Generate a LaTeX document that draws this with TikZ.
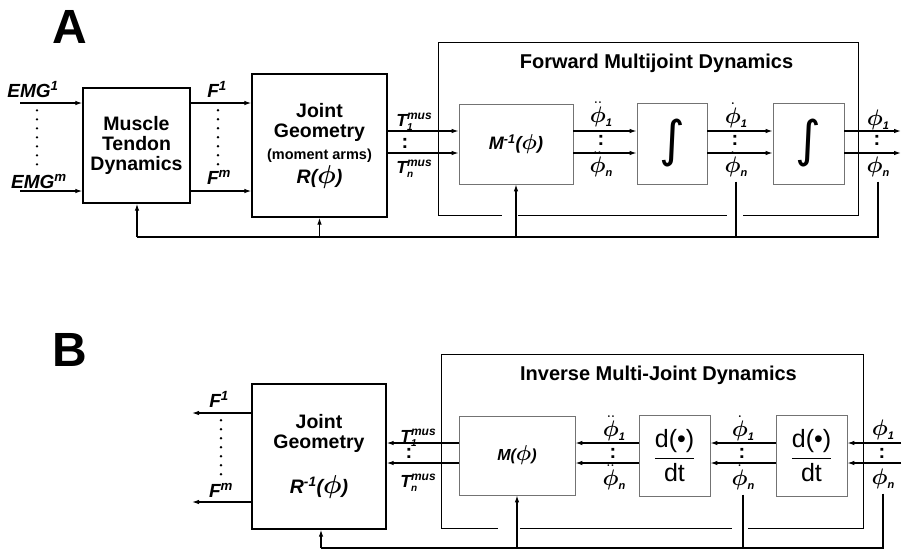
\documentclass[tikz,border=0pt]{standalone}
\usepackage{amsmath}
\usepackage{fontspec}
\setmainfont{Liberation Sans}
\newfontfamily\symfont{DejaVu Sans}
\usetikzlibrary{arrows.meta, positioning}

\newcommand{\phb}{\scalebox{1.25}{$\boldsymbol{\phi}$}}
\newcommand{\phl}[2]{\scalebox{1.3}{$#1{\boldsymbol{\phi}}$}\raisebox{-4pt}{\fontsize{11}{11}\selectfont\bfseries\itshape #2}}
\newcommand{\tmus}[1]{T\makebox[0pt][l]{\raisebox{7pt}{\fontsize{12}{12}\selectfont mus}}\makebox[0pt][l]{\raisebox{-4pt}{\fontsize{10}{10}\selectfont #1}}\phantom{\fontsize{12}{12}\selectfont mus}}
\newcommand{\intg}{\resizebox*{!}{48pt}{\symfont ∫}}

\begin{document}
\begin{tikzpicture}[x=1pt,y=-1pt]
    \tikzstyle{blk} = [rectangle, draw=black, line width=1.3pt, align=center,
                       inner sep=0pt, font=\fontsize{19.5}{20}\selectfont\bfseries]
    \tikzstyle{sub} = [rectangle, draw=black!55, line width=0.7pt, align=center, inner sep=0pt]
    \tikzstyle{frm} = [line width=1.3pt]
    \tikzstyle{ttl} = [font=\fontsize{20}{20}\selectfont\bfseries, inner sep=0pt]
    \tikzstyle{lbl} = [font=\fontsize{19}{20}\selectfont\bfseries\itshape, inner sep=0pt, anchor=base]
    \tikzstyle{tlb} = [font=\fontsize{17.5}{18}\selectfont\bfseries\itshape, inner sep=0pt, anchor=base]
    \tikzstyle{cln} = [font=\fontsize{20}{20}\selectfont\bfseries, inner sep=0pt]
    \tikzstyle{big} = [font=\fontsize{48}{48}\selectfont\bfseries, inner sep=0pt]
    \tikzstyle{dotcol} = [line width=2.6pt, line cap=round, dash pattern=on 0pt off 9pt]
    \tikzstyle{arr} = [-{Latex[length=7pt,width=4.5pt]}, line width=1.2pt]
    \tikzstyle{ln} = [line width=1.2pt]

    \useasboundingbox (0,0) rectangle (902,550);

    % panel A
    \node (labA) [big] at (70,27) {A};
    \node (mus) [blk, minimum width=107pt, minimum height=115pt] at (136.5,145.5)
        {Muscle\\Tendon\\Dynamics};
    \node (jgA) [blk, minimum width=135pt, minimum height=143pt] at (319.5,145.5)
        {Joint\\Geometry\\[2pt]{\fontsize{14.5}{15}\selectfont (moment arms)}\\[2pt]{\itshape R(\phb)}};
    \node (fwd) [minimum width=419pt, minimum height=172pt] at (648.5,129) {};
    \node (fwdT) [ttl, below=11pt of fwd.north, xshift=8pt] {Forward Multijoint Dynamics};
    \node (minv) [sub, minimum width=114pt, minimum height=80pt] at (516,144)
        {\fontsize{18}{20}\selectfont\bfseries\itshape M\textsuperscript{-1}(\phb)};
    \node (int1) [sub, minimum width=70pt, minimum height=81pt] at (672,143.5) {\intg};
    \node (int2) [sub, minimum width=71pt, minimum height=81pt] at (808.5,143.5) {\intg};

    \draw[frm] ([xshift=63pt]fwd.south west) -- (fwd.south west) |- (fwd.north east)
        -- (fwd.south east) -- ([xshift=-115pt]fwd.south east);
    \draw[frm] ([xshift=79pt]fwd.south west) -- ([xshift=-131pt]fwd.south east);

    \coordinate (e1) at (20,103);
    \coordinate (e2) at (20,191);
    \coordinate (a1) at (0,131);
    \coordinate (a2) at (0,153);
    \coordinate (oA) at (901,0);

    \foreach \r in {e1,e2} {
        \draw[arr] (\r) -- (mus.west |- \r);
        \draw[arr] (mus.east |- \r) -- (jgA.west |- \r);
    }
    \foreach \r in {a1,a2} {
        \draw[arr] (jgA.east |- \r) -- (minv.west |- \r);
        \draw[arr] (minv.east |- \r) -- (int1.west |- \r);
        \draw[arr] (int1.east |- \r) -- (int2.west |- \r);
        \draw[arr] (int2.east |- \r) -- (oA |- \r);
    }

    \node (emg1) [lbl] at (33,97) {EMG\textsuperscript{1}};
    \node (emgm) [lbl] at (39,188) {EMG\textsuperscript{m}};
    \node (f1A) [lbl] at (217,97) {F\textsuperscript{1}};
    \node (fmA) [lbl] at (219,184) {F\textsuperscript{m}};
    \node (t1A) [tlb] at (414,126) {\tmus{1}};
    \node (tnA) [tlb] at (414,173) {\tmus{n}};
    \node (pdd1A) [lbl] at (601,122) {\phl{\ddot}{1}};
    \node (pddnA) [lbl] at (601,172) {\phl{\ddot}{n}};
    \node (pd1A) [lbl] at (736,123) {\phl{\dot}{1}};
    \node (pdnA) [lbl] at (736,172) {\phl{\dot}{n}};
    \node (p1A) [lbl] at (878,125) {\phl{}{1}};
    \node (pnA) [lbl] at (878,172) {\phl{}{n}};

    \node (cTA) [cln] at (405,143) {:};
    \node (cddA) [cln] at (601,140) {:};
    \node (cdA) [cln] at (735,140) {:};
    \node (cA) [cln] at (877,140) {:};
    \draw[dotcol] (emg1.south) ++(4,13) -- ++(0,56);
    \draw[dotcol] (f1A.south) ++(1,13) -- ++(0,57);

    % feedback A
    \coordinate (fbA) at (137,237);
    \draw[ln] ([yshift=-5pt]pnA.south) |- (fbA);
    \draw[arr] (fbA) -- (fbA |- mus.south);
    \draw[arr] (jgA.south |- fbA) -- (jgA.south);
    \draw[arr] (minv.south |- fbA) -- (minv.south);
    \draw[ln] ([yshift=-5pt]pdnA.south) -- (pdnA.south |- fbA);

    % panel B
    \node (labB) [big] at (70,350) {B};
    \node (jgB) [blk, minimum width=134pt, minimum height=145pt] at (319,456.5)
        {Joint\\Geometry\\[22pt]{\itshape R\textsuperscript{-1}(\phb)}};
    \node (inv) [minimum width=421pt, minimum height=173pt] at (652.5,441.5) {};
    \node (invT) [ttl, below=11pt of inv.north, xshift=6pt] {Inverse Multi-Joint Dynamics};
    \node (mB) [sub, minimum width=116pt, minimum height=79pt] at (517,455.5)
        {\fontsize{16}{16}\selectfont\bfseries\itshape M(\phb)};
    \node (d1) [sub, minimum width=71pt, minimum height=81pt, font=\fontsize{25}{26}\selectfont]
        at (674.5,455.5) {$\dfrac{\text{d(\textbullet)}}{\text{dt}}$};
    \node (d2) [sub, minimum width=71pt, minimum height=81pt, font=\fontsize{25}{26}\selectfont]
        at (811.5,455.5) {$\dfrac{\text{d(\textbullet)}}{\text{dt}}$};

    \draw[frm] ([xshift=56pt]inv.south west) -- (inv.south west) |- (inv.north east)
        -- (inv.south east) -- ([xshift=-115pt]inv.south east);
    \draw[frm] ([xshift=78pt]inv.south west) -- ([xshift=-131pt]inv.south east);

    \coordinate (b1) at (0,443);
    \coordinate (b2) at (0,463);
    \coordinate (iB) at (901,0);
    \coordinate (fo1) at (192,413);
    \coordinate (fo2) at (192,502);

    \foreach \r in {b1,b2} {
        \draw[arr] (iB |- \r) -- (d2.east |- \r);
        \draw[arr] (d2.west |- \r) -- (d1.east |- \r);
        \draw[arr] (d1.west |- \r) -- (mB.east |- \r);
        \draw[arr] (mB.west |- \r) -- (jgB.east |- \r);
    }
    \foreach \r in {fo1,fo2}
        \draw[arr] (jgB.west |- \r) -- (\r);

    \node (f1B) [lbl] at (219,407) {F\textsuperscript{1}};
    \node (fmB) [lbl] at (221,497) {F\textsuperscript{m}};
    \node (t1B) [tlb] at (418,442) {\tmus{1}};
    \node (tnB) [tlb] at (418,487) {\tmus{n}};
    \node (pdd1B) [lbl] at (614,436) {\phl{\ddot}{1}};
    \node (pddnB) [lbl] at (614,485) {\phl{\ddot}{n}};
    \node (pd1B) [lbl] at (743,436) {\phl{\dot}{1}};
    \node (pdnB) [lbl] at (743,485) {\phl{\dot}{n}};
    \node (p1B) [lbl] at (883,435) {\phl{}{1}};
    \node (pnB) [lbl] at (883,484) {\phl{}{n}};

    \node (cTB) [cln] at (409,453) {:};
    \node (cddB) [cln] at (613,453) {:};
    \node (cdB) [cln] at (742,453) {:};
    \node (cB) [cln] at (882,453) {:};
    \draw[dotcol] (f1B.south) ++(2,13) -- ++(0,55);

    % feedback B
    \coordinate (fbB) at (321,548);
    \draw[ln] ([yshift=-5pt]pnB.south) |- (fbB);
    \draw[arr] (fbB) -- (fbB |- jgB.south);
    \draw[arr] (mB.south |- fbB) -- (mB.south);
    \draw[ln] ([yshift=-5pt]pdnB.south) -- (pdnB.south |- fbB);
\end{tikzpicture}
\end{document}
